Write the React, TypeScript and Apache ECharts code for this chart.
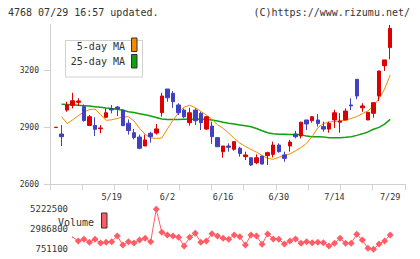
import React, { useEffect, useRef } from "react";
import * as echarts from "echarts";

// Trading days shown on the chart
const dates = [
  "5/1", "5/2", "5/7", "5/8", "5/9", "5/12", "5/13", "5/14", "5/15", "5/16",
  "5/19", "5/20", "5/21", "5/22", "5/23", "5/26", "5/27", "5/28", "5/29", "5/30",
  "6/2", "6/3", "6/4", "6/5", "6/6", "6/9", "6/10", "6/11", "6/12", "6/13",
  "6/16", "6/17", "6/18", "6/19", "6/20", "6/23", "6/24", "6/25", "6/26", "6/27",
  "6/30", "7/1", "7/2", "7/3", "7/4", "7/7", "7/8", "7/9", "7/10", "7/11",
  "7/14", "7/15", "7/16", "7/17", "7/18", "7/22", "7/23", "7/24", "7/25", "7/28",
  "7/29",
];

const labeledDates = ["5/19", "6/2", "6/16", "6/30", "7/14", "7/29"];
const priceTicks = [2600, 2900, 3200];
const volumeTicks = [751100, 2986800, 5222500];

const opens = [
  2897, 2863, 2989, 3014, 3030, 3007, 2908, 2908, 2891, 2951,
  2997, 3005, 2989, 2920, 2870, 2847, 2800, 2867, 2868, 2975,
  3100, 3077, 3016, 2989, 2923, 2989, 2972, 2889, 2905, 2844,
  2770, 2800, 2783, 2788, 2744, 2738, 2712, 2747, 2749, 2756,
  2805, 2753, 2800, 2863, 2853, 2937, 2933, 2937, 2902, 2889,
  2937, 2925, 2937, 3016, 3151, 3001, 2937, 2972, 3063, 3223,
  3318,
];
const closes = [
  2899, 2849, 3016, 3038, 3037, 2934, 2954, 2888, 2895, 2975,
  2990, 2995, 2907, 2881, 2845, 2788, 2832, 2849, 2890, 3063,
  3054, 3033, 2975, 2954, 2975, 2933, 2923, 2954, 2849, 2796,
  2800, 2793, 2823, 2761, 2753, 2700, 2738, 2705, 2765, 2805,
  2770, 2735, 2821, 2849, 2925, 2916, 2954, 2919, 2889, 2919,
  2975, 2932, 2984, 3011, 3063, 3011, 2977, 3028, 3195, 3253,
  3419,
];
const lows = [
  2897, 2800, 2980, 2998, 3010, 2928, 2905, 2853, 2867, 2946,
  2972, 2958, 2905, 2860, 2835, 2783, 2800, 2818, 2860, 2955,
  3033, 3001, 2963, 2946, 2907, 2911, 2884, 2884, 2811, 2796,
  2738, 2770, 2775, 2744, 2726, 2695, 2705, 2705, 2700, 2740,
  2765, 2717, 2770, 2840, 2840, 2884, 2923, 2902, 2875, 2870,
  2895, 2870, 2937, 2989, 3046, 2980, 2937, 2949, 3037, 3195,
  3256,
];
const highs = [
  2899, 2910, 3033, 3080, 3051, 3019, 2963, 2951, 2910, 2998,
  3016, 3010, 2993, 2940, 2890, 2860, 2860, 2875, 2916, 3080,
  3100, 3089, 3025, 2998, 3001, 2998, 2980, 2958, 2928, 2846,
  2800, 2814, 2826, 2796, 2770, 2738, 2756, 2747, 2770, 2823,
  2814, 2770, 2832, 2880, 2928, 2937, 2958, 2968, 2928, 2928,
  2991, 2973, 2998, 3051, 3151, 3025, 2977, 3028, 3195, 3253,
  3437,
];

const ma5 = [
  null, 2955, 2918, 2938, 2960, 2978, 2992, 2994, 2965, 2935,
  2938, 2945, 2953, 2954, 2932, 2893, 2862, 2842, 2840, 2842,
  2890, 2935, 2975, 3005, 3014, 3002, 2983, 2962, 2940, 2912,
  2893, 2868, 2840, 2815, 2798, 2782, 2768, 2750, 2735, 2730,
  2740, 2753, 2758, 2775, 2792, 2815, 2850, 2896, 2918, 2926,
  2929, 2931, 2936, 2945, 2955, 2970, 2985, 3010, 3050, 3100,
  3174,
];
const ma25 = [
  null, 3020, 3019, 3017, 3014, 3012, 3010, 3007, 3004, 3000,
  2997, 2993, 2988, 2980, 2976, 2970, 2964, 2958, 2950, 2942,
  2940, 2940, 2940, 2941, 2941, 2941, 2942, 2940, 2937, 2932,
  2925, 2920, 2916, 2911, 2906, 2901, 2892, 2880, 2870, 2865,
  2862, 2862, 2861, 2860, 2859, 2852, 2849, 2849, 2848, 2844,
  2843, 2844, 2846, 2849, 2856, 2864, 2874, 2888, 2898, 2915,
  2940,
];

// Volume starts on the fourth trading day (5/8)
const volumeStart = 3;
const volumes = [
  2092500, 1682600, 1869000, 1533600, 1869000, 1459100, 1533600, 1608100, 2241600, 1235500,
  1608100, 1459100, 1794400, 1980700, 1608100, 5222500, 2651500, 2353400, 2241600, 2092500,
  1123700, 2092500, 2539700, 1533600, 1682600, 2502400, 2241600, 1980700, 1869000, 2353400,
  2167000, 1235500, 2353400, 2241600, 1310000, 2465100, 1906200, 1869000, 1347300, 1682600,
  1906200, 1421800, 1608100, 1496300, 1533600, 1496300, 1123700, 1421800, 1980700, 1421800,
  1421800, 2427900, 1794400, 862900, 751100, 1347300, 1682600, 2353400,
];

const UP = "#dd0000";
const DOWN = "#4040c0";
const MA5_COLOR = "#f08c00";
const MA25_COLOR = "#10a010";
const VOL_COLOR = "#ff5c66";
const AXIS_GRAY = "#d0d0d0";
const TEXT = "#333333";
const MONO = "DejaVu Sans Mono, monospace";

const plain = (v: number) => String(v);

export default function App() {
  const ref = useRef<HTMLDivElement>(null);

  useEffect(() => {
    if (!ref.current) return;
    const chart = echarts.init(ref.current, undefined, { renderer: "svg" });

    const candles = dates.map((_, i) => [opens[i], closes[i], lows[i], highs[i]]);
    const volumeData = dates.map((_, i) => {
      const k = i - volumeStart;
      if (k < 0) return null;
      return k === 0 ? { value: volumes[k], symbolSize: 2 } : volumes[k];
    });

    const plotTop = 24.4;
    const plotHeight = 159.6;

    chart.setOption({
      animation: false,
      backgroundColor: "#ffffff",
      grid: [
        { left: 56, top: plotTop, width: 334.2, height: plotHeight },
        { left: 50, top: plotTop, width: 355, height: plotHeight },
        { left: 56, top: 209.3, width: 334.2, height: 40 },
      ],
      xAxis: [
        {
          type: "category",
          gridIndex: 0,
          data: dates,
          boundaryGap: false,
          axisLine: { show: false },
          axisTick: { show: false },
          splitLine: { show: false },
          axisLabel: {
            interval: (_i: number, v: string) => labeledDates.includes(v),
            fontFamily: MONO,
            fontSize: 8.5,
            color: TEXT,
            margin: 8,
          },
        },
        {
          type: "value",
          gridIndex: 1,
          min: 0,
          max: 11,
          interval: 1,
          axisLine: { show: true, lineStyle: { color: AXIS_GRAY, width: 1 } },
          axisTick: { show: true, length: 6, lineStyle: { color: AXIS_GRAY } },
          axisLabel: { show: false },
          splitLine: { show: false },
        },
        {
          type: "category",
          gridIndex: 2,
          data: dates,
          boundaryGap: false,
          show: false,
        },
      ],
      yAxis: [
        { type: "value", gridIndex: 0, min: 2600, max: 3440, show: false, splitLine: { show: false } },
        {
          type: "value",
          gridIndex: 1,
          min: 2600,
          max: 3440,
          axisLine: { show: true, lineStyle: { color: AXIS_GRAY, width: 1 } },
          axisTick: { show: true, length: 6, lineStyle: { color: AXIS_GRAY }, customValues: priceTicks },
          axisLabel: {
            customValues: priceTicks,
            formatter: plain,
            fontFamily: MONO,
            fontSize: 8,
            color: TEXT,
            margin: 11,
          },
          splitLine: { show: false },
        },
        {
          type: "value",
          gridIndex: 2,
          min: volumeTicks[0],
          max: volumeTicks[2],
          offset: -12,
          axisLine: { show: false },
          axisTick: { show: false },
          splitLine: { show: false },
          axisLabel: {
            customValues: volumeTicks,
            formatter: plain,
            fontFamily: MONO,
            fontSize: 9,
            color: TEXT,
            margin: 0,
          },
        },
      ],
      series: [
        {
          name: "25-day MA",
          type: "line",
          xAxisIndex: 0,
          yAxisIndex: 0,
          data: ma25,
          symbol: "none",
          lineStyle: { color: MA25_COLOR, width: 1.5 },
          z: 2,
        },
        {
          name: "5-day MA",
          type: "line",
          xAxisIndex: 0,
          yAxisIndex: 0,
          data: ma5,
          symbol: "none",
          lineStyle: { color: MA5_COLOR, width: 1 },
          z: 2,
        },
        {
          name: "price",
          type: "candlestick",
          xAxisIndex: 0,
          yAxisIndex: 0,
          data: candles,
          barWidth: 4,
          itemStyle: {
            color: UP,
            color0: DOWN,
            borderColor: UP,
            borderColor0: DOWN,
            borderWidth: 1,
          },
          z: 3,
        },
        {
          name: "Volume",
          type: "line",
          xAxisIndex: 2,
          yAxisIndex: 2,
          data: volumeData,
          symbol: "diamond",
          symbolSize: 7,
          showAllSymbol: true,
          lineStyle: { color: VOL_COLOR, width: 1 },
          itemStyle: { color: VOL_COLOR },
        },
      ],
      graphic: [
        {
          type: "text",
          left: 8,
          top: 7,
          style: { text: "4768 07/29 16:57 updated.", fontFamily: MONO, fontSize: 10, fill: TEXT },
        },
        {
          type: "text",
          right: 10,
          top: 7,
          style: { text: "(C)https://www.rizumu.net/", fontFamily: MONO, fontSize: 10, fill: TEXT },
        },
        {
          type: "rect",
          shape: { x: 65.5, y: 40.5, width: 77, height: 36.5 },
          style: { fill: "#ffffff", stroke: AXIS_GRAY, lineWidth: 1 },
          z: 10,
        },
        {
          type: "text",
          x: 125,
          y: 46.7,
          style: {
            text: "5-day MA",
            fontFamily: MONO,
            fontSize: 10,
            fill: TEXT,
            align: "right",
            verticalAlign: "middle",
          },
          z: 11,
        },
        {
          type: "text",
          x: 125,
          y: 61,
          style: {
            text: "25-day MA",
            fontFamily: MONO,
            fontSize: 10,
            fill: TEXT,
            align: "right",
            verticalAlign: "middle",
          },
          z: 11,
        },
        {
          type: "rect",
          shape: { x: 131.5, y: 38, width: 5.5, height: 13.5 },
          style: { fill: MA5_COLOR, stroke: "#333333", lineWidth: 1 },
          z: 11,
        },
        {
          type: "rect",
          shape: { x: 131.5, y: 54.5, width: 5.5, height: 13.5 },
          style: { fill: MA25_COLOR, stroke: "#333333", lineWidth: 1 },
          z: 11,
        },
        {
          type: "text",
          x: 58,
          y: 222.3,
          style: {
            text: "Volume",
            fontFamily: MONO,
            fontSize: 10,
            fill: TEXT,
            verticalAlign: "middle",
          },
          z: 11,
        },
        {
          type: "rect",
          shape: { x: 101.5, y: 213, width: 5.5, height: 15 },
          style: { fill: VOL_COLOR, stroke: "#333333", lineWidth: 1 },
          z: 11,
        },
      ],
    });

    return () => chart.dispose();
  }, []);

  return (
    <div
      ref={ref}
      style={{ position: "absolute", left: 0, top: 0, width: 420, height: 259, background: "#fff" }}
    />
  );
}
